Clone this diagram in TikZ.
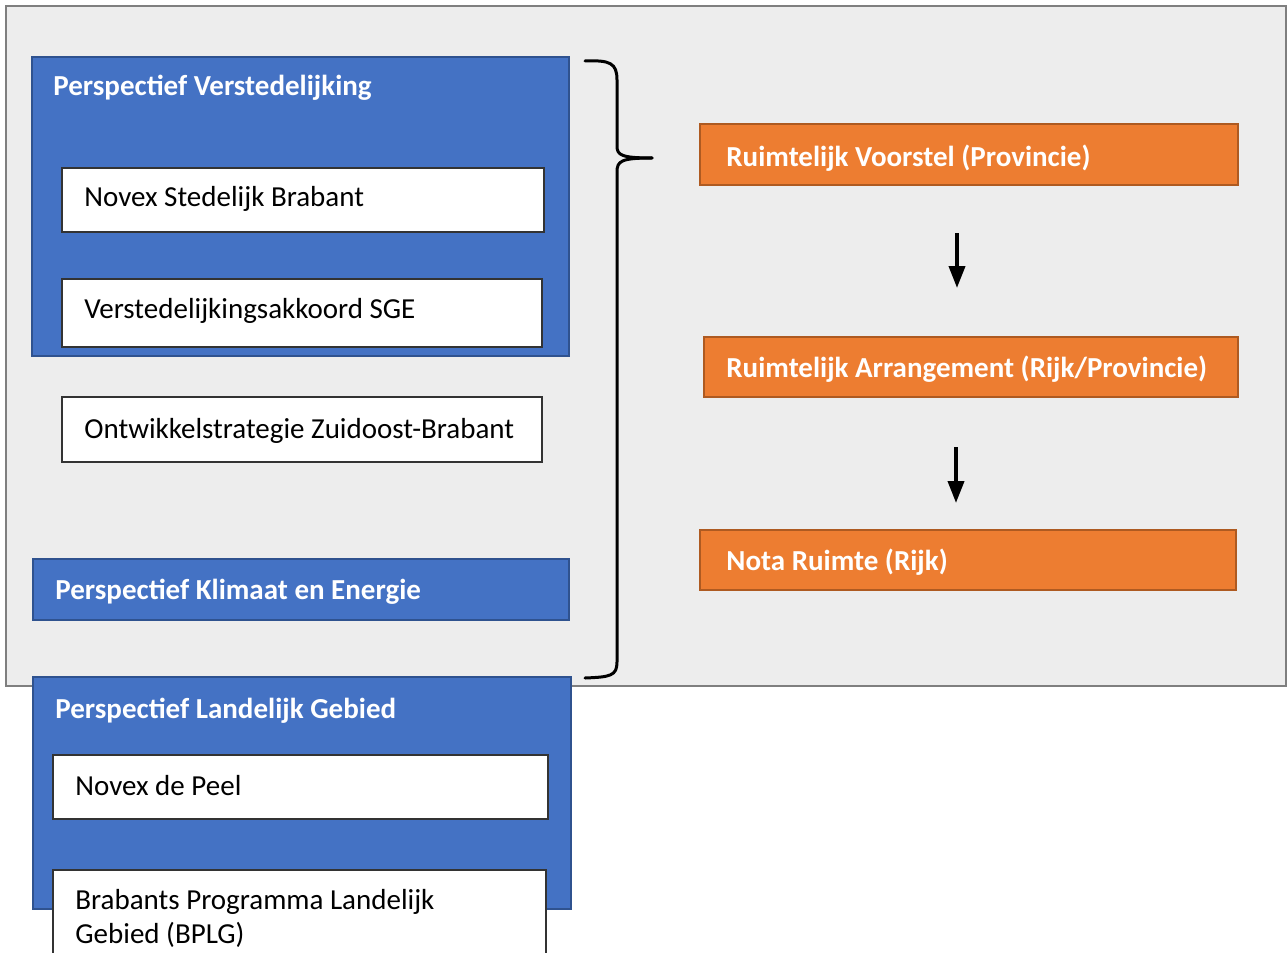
\documentclass[tikz,border=0pt]{standalone}
\usepackage{fontspec}
\setmainfont{Carlito}
\usetikzlibrary{arrows.meta}
\definecolor{bgfill}{HTML}{EDEDED}
\definecolor{bgline}{HTML}{7F7F7F}
\definecolor{bluefill}{HTML}{4472C4}
\definecolor{blueline}{HTML}{2F528F}
\definecolor{orangefill}{HTML}{ED7D31}
\definecolor{orangeline}{HTML}{AE5A21}
\tikzset{
  box/.style={rectangle, anchor=north west, inner sep=0pt, outer sep=0pt},
  outerbox/.style={box, draw=bgline, fill=bgfill, line width=1pt},
  bluebox/.style={box, draw=blueline, fill=bluefill, line width=0.8pt},
  whitebox/.style={box, draw=black!80, fill=white, line width=0.7pt},
  orangebox/.style={box, draw=orangeline, fill=orangefill, line width=0.8pt},
  headtxt/.style={anchor=west, inner sep=0pt, text=white, font=\fontsize{14.5pt}{17pt}\selectfont\bfseries},
  bodytxt/.style={anchor=west, inner sep=0pt, text=black, font=\fontsize{14.5pt}{17pt}\selectfont},
  flowarrow/.style={line width=1.9pt, -{Triangle[width=8pt,length=11pt]}},
  bracepath/.style={line width=1.5pt, line cap=round, line join=round}
}
\begin{document}
\begin{tikzpicture}[x=0.5pt,y=-0.5pt]
\useasboundingbox (0,0) rectangle (1288,952);
\clip (0,0) rectangle (1288,952);
% outer panel
\node[outerbox, minimum width=640pt, minimum height=340pt] (panel) at (6,6) {};
% Perspectief Verstedelijking
\node[bluebox, minimum width=268.5pt, minimum height=149.5pt] (pv) at (32,57) {};
\node[headtxt] (pvt) at (53,88) {Perspectief Verstedelijking};
\node[whitebox, minimum width=241pt, minimum height=32pt] (nsb) at (62,168) {};
\node[bodytxt] (nsbt) at (84,199) {Novex Stedelijk Brabant};
\node[whitebox, minimum width=240pt, minimum height=34pt] (vsge) at (62,279) {};
\node[bodytxt] (vsget) at (84,311) {Verstedelijkingsakkoord SGE};
\node[whitebox, minimum width=240pt, minimum height=32.5pt] (ozb) at (62,397) {};
\node[bodytxt] (ozbt) at (84,431) {Ontwikkelstrategie Zuidoost-Brabant};
% Perspectief Klimaat en Energie
\node[bluebox, minimum width=268pt, minimum height=30.5pt] (pke) at (33,559) {};
\node[headtxt] (pket) at (55,592) {Perspectief Klimaat en Energie};
% orange column
\node[orangebox, minimum width=269pt, minimum height=30.5pt] (rvp) at (700,124) {};
\node[headtxt] (rvpt) at (726,158) {Ruimtelijk Voorstel (Provincie)};
\node[orangebox, minimum width=267pt, minimum height=30pt] (rarp) at (704,337) {};
\node[headtxt] (rarpt) at (726,369) {Ruimtelijk Arrangement (Rijk/Provincie)};
\node[orangebox, minimum width=268pt, minimum height=30pt] (nr) at (700,530) {};
\node[headtxt] (nrt) at (726,562) {Nota Ruimte (Rijk)};
% arrows
\coordinate (a1s) at (957,233);
\coordinate (a1e) at (957,288);
\coordinate (a2s) at (956,447);
\coordinate (a2e) at (956,503);
\draw[flowarrow] (a1s) -- (a1e);
\draw[flowarrow] (a2s) -- (a2e);
% brace
\draw[bracepath] (585,61) .. controls (610,60) and (617,63) .. (617,80) -- (617,146) .. controls (617,155) and (621,158) .. (652,158);
\draw[bracepath] (652,158) .. controls (621,158) and (617,161) .. (617,172) -- (617,662) .. controls (617,676) and (610,677) .. (585,678);
% Perspectief Landelijk Gebied
\node[bluebox, minimum width=269pt, minimum height=116pt] (plg) at (33,677) {};
\node[headtxt] (plgt) at (55,711) {Perspectief Landelijk Gebied};
\node[whitebox, minimum width=247.5pt, minimum height=32pt] (ndp) at (53,755) {};
\node[bodytxt] (ndpt) at (75,786) {Novex de Peel};
\node[whitebox, minimum width=246.5pt, minimum height=55pt] (bplg) at (53,870) {};
\node[bodytxt, anchor=north west, align=left] (bplgt) at (75,889) {Brabants Programma Landelijk\\Gebied (BPLG)};
\end{tikzpicture}
\end{document}
